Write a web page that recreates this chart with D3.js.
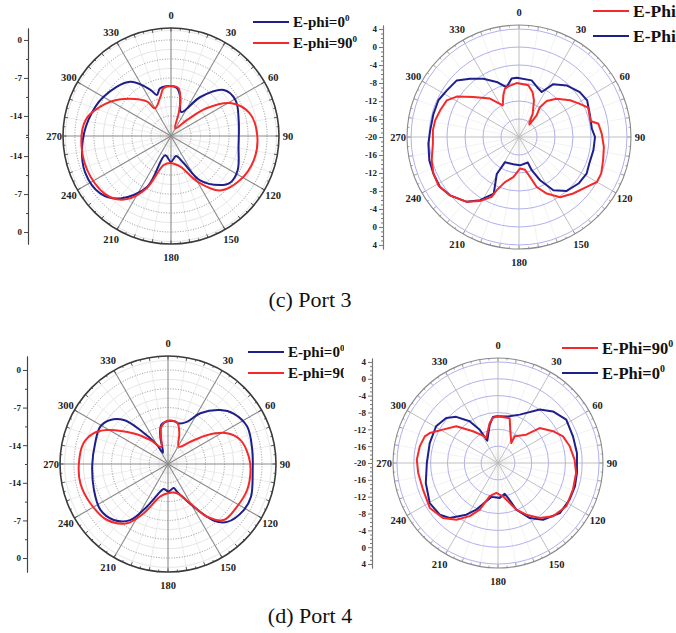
<!DOCTYPE html>
<html>
<head>
<meta charset="utf-8">
<script src="https://cdn.jsdelivr.net/npm/d3@7"></script>
<style>
  body { margin: 0; background: #fff; }
  svg { display: block; font-family: "Liberation Serif", "Times New Roman", serif; }
</style>
</head>
<body>
<svg id="chart" width="676" height="633"></svg>
<script>
// angles are degrees clockwise from the top, values are dB
const angleTicks = [0, 30, 60, 90, 120, 150, 180, 210, 240, 270, 300, 330];
const simTicks = [0, -7, -14];
const simMinorTicks = [-3.5, -10.5, -17.5];
const measTicks = [4, 0, -4, -8, -12, -16];

// (c) Port 3, simulated
const port3SimPhi0 = [[0,-8.5],[7,-8.8],[13,-10.2],[23,-12.9],[37,-8.7],[49,-4.8],[61,-4.1],[77,-4.9],[99,-5.1],
  [117,-3.9],[128,-3.8],[135,-4.9],[147,-8.0],[155,-12.2],[166,-13.9],[180,-12.9],[197,-14.0],[205,-7.4],
  [219,-2.9],[231,-0.9],[247,-0.5],[263,-1.2],[281,-2.2],[300,-3.3],[323,-5.2],[336,-8.4],[341,-9.7],[347,-8.7]];
const port3SimPhi90 = [[0,-8.5],[9,-8.8],[14.5,-10.9],[18.7,-13.3],[29,-16.1],[45,-13.5],[52,-9.4],[61,-5.2],[74,-2.6],
  [90,-1.8],[106,-1.8],[122.5,-2.6],[138,-4.2],[150,-8.0],[163,-11.8],[180,-12.7],[194,-12.2],[205,-7.1],[215,-3.5],
  [225,-1.8],[243,-1.1],[263,-1.1],[280.6,-1.7],[292.5,-3.6],[306,-6.2],[325,-9.9],[330,-11.8],[345,-10.2],[351,-8.8]];

// (c) Port 3, measured
const port3MeasPhi0 = [[358,-6.8],[12.6,-7.1],[21.8,-8.4],[26.8,-8.8],[33,-6.0],[42.7,-4.4],[53.6,-3.2],[61.7,-2.8],
  [73,-3.5],[83.5,-3.7],[90,-3.1],[100,-3.2],[110.8,-3.3],[118.5,-2.9],[128,-3.2],[138.5,-4.0],[147.2,-5.9],
  [154,-9.3],[159,-12.1],[161,-14.0],[178,-13.7],[191.8,-13.8],[209,-13.6],[211,-10.4],[204,-6.2],[211.6,-3.5],
  [218.8,-1.5],[229.8,0.1],[237.7,0.8],[246.8,0.7],[255.4,0.6],[265.8,0.2],[274.3,-0.2],[285,-0.3],[294.5,-0.3],
  [302.9,-0.9],[312.3,-1.3],[320,-3.1],[328.5,-4.8],[337.9,-6.8],[346,-8.6],[352.8,-6.9]];
const port3MeasPhi90 = [[357.5,-8.0],[10.2,-8.3],[16.9,-9.6],[22.2,-11.2],[30.5,-14.0],[36.4,-16.1],[40,-16.4],
  [39.2,-13.8],[35,-11.9],[37.6,-9.9],[44.5,-8.1],[54.3,-6.0],[61.4,-4.6],[67,-3.3],[77.4,-3.7],[80.5,-2.1],
  [87.7,-1.6],[96.7,-1.0],[105.5,-0.6],[114,0.0],[120,0.0],[126.4,-1.3],[136.2,-2.6],[145.7,-3.8],[153.9,-6.0],
  [160.5,-8.2],[164.6,-10.8],[169.6,-12.6],[178,-13.0],[188,-11.0],[197.3,-9.5],[202.7,-7.2],[204.5,-5.4],
  [211.4,-3.3],[218.8,-1.5],[229.8,0.1],[239,0.9],[246.8,0.7],[255,0.1],[265.6,-0.8],[274.4,-0.8],[281.2,-1.0],
  [288.7,-1.5],[296.9,-2.0],[303,-3.5],[311.2,-6.5],[322.9,-9.3],[332.8,-12.1],[339.4,-10.1],[343.8,-8.8],[348,-8.5]];

// (d) Port 4, simulated
const port4SimPhi0 = [[1,-9.5],[9.8,-9.5],[14.7,-9.7],[24.2,-8.9],[32.5,-6.3],[44.1,-3.5],[52.4,-2.1],[64.7,-1.2],
  [80.5,-1.6],[94,-1.7],[111.5,-0.9],[121.3,-1.0],[134.4,-2.1],[141.1,-4.0],[149,-8.2],[162,-12.1],[166.8,-12.9],
  [178.6,-12.4],[189.8,-12.8],[195.5,-12.2],[206.2,-8.7],[214,-4.9],[224.1,-3.0],[235.8,-2.3],[250.7,-2.9],
  [269.5,-3.4],[285.9,-3.4],[298.9,-3.1],[307.3,-4.0],[314.8,-5.9],[320.8,-9.4],[330,-13.4],[336,-15.2],
  [344.3,-12.2],[350.3,-10.1]];
const port4SimPhi90 = [[358.7,-9.5],[12.3,-9.6],[20.2,-11.4],[31.7,-13.7],[45,-11.7],[53.4,-8.5],[62.5,-5.1],
  [71.6,-3.3],[84.8,-2.4],[94.2,-2.1],[108.2,-2.0],[121.7,-2.4],[135.2,-2.8],[143.5,-5.3],[150.4,-9.1],
  [162.9,-11.8],[178.6,-12.1],[193.2,-11.3],[206.2,-7.3],[214.7,-4.1],[227.4,-2.1],[243.2,-1.3],[257.6,-0.8],
  [269.6,-0.9],[283.8,-1.3],[292.4,-2.5],[299.1,-4.5],[311.8,-9.0],[323.6,-12.0],[338.8,-14.1],[345.6,-12.3],
  [349.8,-10.5]];

// (d) Port 4, measured
const port4MeasPhi0 = [[358,-8.9],[12.1,-8.7],[24.2,-7.4],[38,-3.9],[46.8,-2.1],[57.6,-0.8],[70.4,-1.1],[82.8,-1.1],
  [97.2,-1.1],[106.9,-0.9],[117.1,-0.9],[129,-1.1],[141.6,-2.8],[150,-4.9],[158.6,-8.1],[164,-11.4],[167.7,-12.5],
  [177.2,-11.7],[191.1,-11.8],[197,-10.5],[204.9,-7.8],[211.5,-5.6],[221.3,-2.6],[228.4,-1.5],[239.6,-1.2],
  [254.5,-2.2],[270,-3.1],[286.3,-3.1],[300.7,-2.9],[311,-3.7],[317.8,-5.2],[325.8,-8.0],[331.2,-11.0],
  [334.4,-14.1],[347.8,-10.7],[353.8,-9.0]];
const port4MeasPhi90 = [[0,-8.9],[14.6,-9.0],[20.3,-11.6],[33.6,-14.3],[32,-12.5],[45,-10.5],[50,-7.1],[60,-4.9],
  [67.7,-3.3],[76.9,-2.5],[87.5,-1.8],[97.3,-1.3],[109.6,-1.1],[122.4,-0.8],[134.1,-1.8],[142.8,-3.6],[151.3,-6.0],
  [158.6,-8.1],[165.4,-10.6],[171.5,-12.0],[183.2,-12.9],[194,-11.9],[201.4,-8.1],[208,-5.7],[216.3,-3.3],
  [225,-1.5],[236.6,-0.6],[250.4,-1.1],[262.9,-0.9],[272.3,-0.7],[282,-1.0],[290,-1.5],[293.7,-2.3],[301.2,-4.7],
  [311.3,-6.8],[321.7,-10.4],[331.2,-12.6],[334.9,-13.4],[348.3,-10.3],[353.7,-9.2]];

const BLUE = "#1f1f8c";
const RED = "#f42a2a";

const svg = d3.select("#chart");
const rad = a => a * Math.PI / 180;

function drawPanel(p) {
  const g = svg.append("g").attr("transform", `translate(${p.cx},${p.cy})`);
  const r = d3.scaleLinear().domain(p.domain).range([0, p.R]);
  const sim = p.kind === "sim";

  // thin spokes every 10 deg
  g.selectAll("line.minorSpoke")
    .data(d3.range(0, 360, 10).filter(a => a % 30 !== 0))
    .join("line")
    .attr("class", "minorSpoke")
    .attr("x2", a => p.R * Math.sin(rad(a)))
    .attr("y2", a => -p.R * Math.cos(rad(a)))
    .style("stroke", sim ? "#e4e4e4" : "#ececec")
    .style("stroke-width", 0.7);

  if (sim) {
    g.selectAll("circle.lightRing")
      .data(d3.range(-15.75, 2, 3.5))
      .join("circle")
      .attr("class", "lightRing")
      .attr("r", d => r(d))
      .style("fill", "none").style("stroke", "#dedede").style("stroke-width", 0.8);
    g.selectAll("circle.ring")
      .data(d3.range(-14, 1, 3.5))
      .join("circle")
      .attr("class", "ring")
      .attr("r", d => r(d))
      .style("fill", "none").style("stroke", "#777")
      .style("stroke-width", 0.8).style("stroke-dasharray", "1,1.6");
  } else {
    g.selectAll("circle.ring")
      .data(d3.range(-16, 5, 4))
      .join("circle")
      .attr("class", "ring")
      .attr("r", d => r(d))
      .style("fill", "none").style("stroke", "#a7a7ec").style("stroke-width", 0.9);
  }

  // main spokes
  g.selectAll("line.spoke")
    .data(angleTicks)
    .join("line")
    .attr("class", "spoke")
    .attr("x2", a => p.R * Math.sin(rad(a)))
    .attr("y2", a => -p.R * Math.cos(rad(a)))
    .style("stroke", sim ? "#8a8a8a" : "#b8b8b8")
    .style("stroke-width", sim ? 1.1 : 0.9);

  // outer frame with small ticks
  g.append("circle").attr("r", p.R)
    .style("fill", "none")
    .style("stroke", sim ? "#3a3a3a" : "#8a8a8a")
    .style("stroke-width", sim ? 1.6 : 1.1);
  g.selectAll("line.frameTick")
    .data(d3.range(0, 360, 5))
    .join("line")
    .attr("class", "frameTick")
    .attr("x1", a => p.R * Math.sin(rad(a)))
    .attr("y1", a => -p.R * Math.cos(rad(a)))
    .attr("x2", a => (p.R - (a % 10 ? 2 : 3.5)) * Math.sin(rad(a)))
    .attr("y2", a => -(p.R - (a % 10 ? 2 : 3.5)) * Math.cos(rad(a)))
    .style("stroke", sim ? "#3a3a3a" : "#8a8a8a")
    .style("stroke-width", 0.8);

  // pattern curves
  const line = d3.lineRadial()
    .angle(d => rad(d[0]))
    .radius(d => r(d[1]))
    .curve(sim ? d3.curveCatmullRomClosed.alpha(0.5) : d3.curveLinearClosed);

  g.selectAll("path.data")
    .data(p.series)
    .join("path")
    .attr("class", "data")
    .attr("d", d => line(d.values))
    .style("fill", "none")
    .style("stroke", d => d.color)
    .style("stroke-width", 2)
    .style("stroke-linejoin", "round");

  // angle labels
  g.selectAll("text.angle")
    .data(angleTicks)
    .join("text")
    .attr("class", "angle")
    .attr("x", a => (p.R + p.labelGap + 4 * Math.cos(rad(a)) ** 2) * Math.sin(rad(a)))
    .attr("y", a => -(p.R + p.labelGap + 4 * Math.cos(rad(a)) ** 2) * Math.cos(rad(a)))
    .attr("text-anchor", "middle")
    .attr("dominant-baseline", "central")
    .style("font-size", "10.5px")
    .style("font-weight", "bold")
    .style("fill", "#222")
    .text(a => a);

  // radial scale drawn as a vertical axis on the left
  const yTop = d3.scaleLinear().domain(p.domain).range([0, -p.R]);
  const yBottom = d3.scaleLinear().domain(p.domain).range([0, p.R]);
  const ax = g.append("g").attr("transform", `translate(${p.axisX - p.cx},0)`);
  const topTicks = sim ? simTicks : measTicks.concat([-20]);
  const minor = sim ? simMinorTicks : d3.range(-19, 5, 1).filter(v => v % 4 !== 0);

  [[yTop, topTicks], [yBottom, sim ? simTicks : measTicks]].forEach(([sc, ticks]) => {
    ax.append("g")
      .call(d3.axisLeft(sc).tickValues(minor).tickSize(2).tickSizeOuter(0).tickFormat(""));
    ax.append("g")
      .call(d3.axisLeft(sc).tickValues(ticks).tickSize(4).tickSizeOuter(0).tickFormat(d => String(d)));
  });
  ax.selectAll("path.domain").style("stroke", sim ? "#444" : "#777").style("stroke-width", 1.1);
  ax.selectAll(".tick line").style("stroke", sim ? "#444" : "#777");
  ax.selectAll("g").attr("font-family", null).attr("font-size", null);
  ax.selectAll(".tick text")
    .attr("x", -6)
    .style("font-size", "9px")
    .style("font-weight", "bold")
    .style("fill", "#222");

  return g;
}

function drawLegend(x, y, items, fontSize, gap) {
  const lg = svg.append("g").attr("transform", `translate(${x},${y})`);
  const row = lg.selectAll("g.item")
    .data(items)
    .join("g")
    .attr("class", "item")
    .attr("transform", (d, i) => `translate(0,${i * gap})`);
  row.append("line")
    .attr("x1", 0).attr("x2", 36)
    .style("stroke", d => d.color)
    .style("stroke-width", 2);
  const t = row.append("text")
    .attr("x", 40).attr("y", fontSize * 0.36)
    .style("font-size", fontSize + "px")
    .style("font-weight", "bold")
    .style("fill", "#111")
    .text(d => d.label);
  t.append("tspan")
    .attr("dy", -fontSize * 0.45)
    .style("font-size", (fontSize * 0.6) + "px")
    .text("0");
}

// (c) Port 3
drawPanel({ kind: "sim", cx: 171, cy: 136, R: 108, domain: [-17.7, 2.2], axisX: 28, labelGap: 9,
  series: [{ color: BLUE, values: port3SimPhi0 }, { color: RED, values: port3SimPhi90 }] });
drawLegend(253, 22, [{ color: BLUE, label: "E-phi=0" }, { color: RED, label: "E-phi=90" }], 15, 21);

drawPanel({ kind: "meas", cx: 519, cy: 137, R: 112, domain: [-20, 4.9], axisX: 383, labelGap: 9,
  series: [{ color: BLUE, values: port3MeasPhi0 }, { color: RED, values: port3MeasPhi90 }] });
drawLegend(593, 11, [{ color: RED, label: "E-Phi=90" }, { color: BLUE, label: "E-Phi=0" }], 17.5, 25);

svg.append("text")
  .attr("x", 310).attr("y", 307)
  .attr("text-anchor", "middle")
  .style("font-size", "22px")
  .style("fill", "#111")
  .text("(c) Port 3");

// (d) Port 4
drawPanel({ kind: "sim", cx: 168, cy: 464, R: 108, domain: [-17.5, 2.6], axisX: 27, labelGap: 9,
  series: [{ color: BLUE, values: port4SimPhi0 }, { color: RED, values: port4SimPhi90 }] });
drawLegend(248, 352, [{ color: BLUE, label: "E-phi=0" }, { color: RED, label: "E-phi=90" }], 15, 21);

// the right-hand figure covers the end of the left legend
svg.append("rect")
  .attr("x", 344).attr("y", 322).attr("width", 332).attr("height", 270)
  .style("fill", "#fff");

drawPanel({ kind: "meas", cx: 498, cy: 463, R: 105, domain: [-20, 4.94], axisX: 372, labelGap: 9,
  series: [{ color: BLUE, values: port4MeasPhi0 }, { color: RED, values: port4MeasPhi90 }] });
drawLegend(562, 348, [{ color: RED, label: "E-Phi=90" }, { color: BLUE, label: "E-Phi=0" }], 16.5, 25);

svg.append("text")
  .attr("x", 310).attr("y", 623)
  .attr("text-anchor", "middle")
  .style("font-size", "22px")
  .style("fill", "#111")
  .text("(d) Port 4");
</script>
</body>
</html>
